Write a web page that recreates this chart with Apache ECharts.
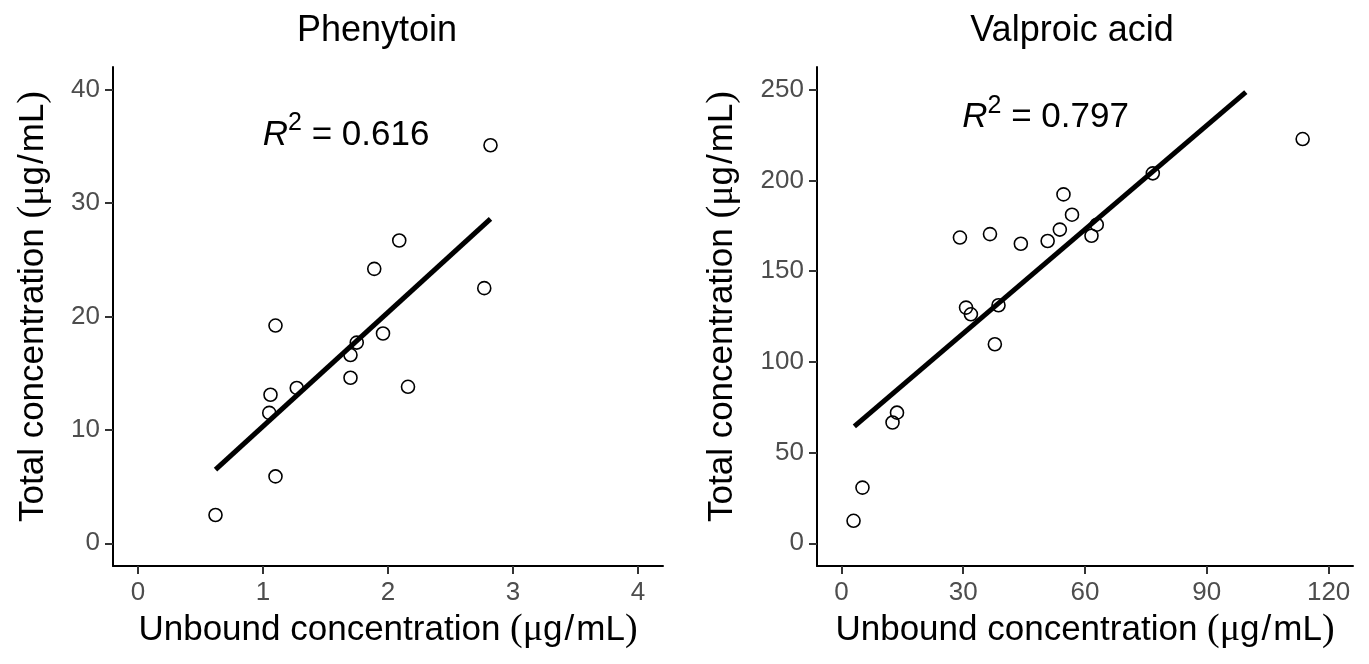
<!DOCTYPE html>
<html>
<head>
<meta charset="utf-8">
<script src="https://cdn.jsdelivr.net/npm/echarts@6/dist/echarts.min.js"></script>
<style>
  html, body { margin: 0; padding: 0; background: #fff; }
  #chart { width: 1369px; height: 664px; }
</style>
</head>
<body>
<div id="chart"></div>
<script>
// Phenytoin: unbound vs total concentration (ug/mL)
const pheUnbound = [0.62, 1.05, 1.06, 1.10, 1.10, 1.27, 1.70, 1.70, 1.75, 1.89, 1.96, 2.09, 2.16, 2.77, 2.82]
const pheTotal = [2.5, 11.5, 13.1, 19.2, 5.9, 13.7, 14.6, 16.6, 17.7, 24.2, 18.5, 26.7, 13.8, 22.5, 35.1]
const pheFitX = [0.62, 2.82]
const pheFitY = [6.5, 28.6]
const pheR2 = '0.616'
const pheXTicks = [0, 1, 2, 3, 4]
const pheYTicks = [0, 10, 20, 30, 40]

// Valproic acid
const vpaUnbound = [3.0, 5.2, 12.6, 13.7, 29.2, 30.7, 31.9, 36.6, 37.8, 38.7, 44.2, 50.8, 53.8, 54.7, 56.8, 61.6, 62.9, 76.7, 113.6]
const vpaTotal = [12.4, 30.7, 66.6, 72.0, 168.5, 129.9, 126.2, 170.4, 109.7, 131.2, 165.1, 166.6, 172.9, 192.3, 181.1, 169.5, 175.6, 203.9, 222.8]
const vpaFitX = [3.2, 99.6]
const vpaFitY = [64.4, 248.7]
const vpaR2 = '0.797'
const vpaXTicks = [0, 30, 60, 90, 120]
const vpaYTicks = [0, 50, 100, 150, 200, 250]

const SANS = '"Liberation Sans", Arial, sans-serif'
const SERIF = '"Liberation Serif", "Times New Roman", serif'

function zip (xs, ys) {
  return xs.map((x, i) => [x, ys[i]])
}

// ggplot-style 5% expansion around the tick range
function expand (ticks) {
  const lo = ticks[0]
  const hi = ticks[ticks.length - 1]
  const pad = (hi - lo) * 0.05
  return [lo - pad, hi + pad]
}

const nameRich = {
  a: { fontFamily: SANS, fontSize: 35, color: '#000' },
  p: { fontFamily: SANS, fontSize: 35, color: '#000', padding: [0, 0, 0, 20] },
  m: { fontFamily: SERIF, fontSize: 38, color: '#000' },
  s: { fontFamily: SANS, fontSize: 35, color: '#000', padding: [0, 2, 0, 2] }
}
function unitName (text, first) {
  return '{' + first + '|' + text + ' }{m|(μ}{a|g}{s|/}{a|mL}{m|)}'
}

function xAxisFor (grid, ticks, gap) {
  const r = expand(ticks)
  return {
    type: 'value',
    gridIndex: grid,
    min: r[0],
    max: r[1],
    name: unitName('Unbound concentration', 'a'),
    nameLocation: 'middle',
    nameGap: gap,
    nameTextStyle: { rich: nameRich },
    splitLine: { show: false },
    axisLine: { onZero: false, lineStyle: { color: '#000', width: 2 } },
    axisTick: { customValues: ticks, length: 8, lineStyle: { color: '#333', width: 2 } },
    axisLabel: { customValues: ticks, margin: 14, fontSize: 26, fontFamily: SANS, color: '#4d4d4d' }
  }
}

function yAxisFor (grid, ticks, gap) {
  const r = expand(ticks)
  return {
    type: 'value',
    gridIndex: grid,
    min: r[0],
    max: r[1],
    name: unitName('Total concentration', 'p'),
    nameLocation: 'middle',
    nameRotate: 90,
    nameGap: gap,
    nameTextStyle: { rich: nameRich },
    splitLine: { show: false },
    axisLine: { onZero: false, lineStyle: { color: '#000', width: 2 } },
    axisTick: { customValues: ticks, length: 8, lineStyle: { color: '#333', width: 2 } },
    axisLabel: { customValues: ticks, margin: 13, fontSize: 26, fontFamily: SANS, color: '#4d4d4d' }
  }
}

const r2Rich = {
  i: { fontFamily: SANS, fontStyle: 'italic', fontSize: 35, color: '#000', lineHeight: 42, verticalAlign: 'bottom' },
  s: { fontFamily: SANS, fontSize: 25, color: '#000', lineHeight: 26, verticalAlign: 'top' },
  n: { fontFamily: SANS, fontSize: 35, color: '#000', lineHeight: 42, verticalAlign: 'bottom' }
}

function pointSeries (grid, xs, ys) {
  return {
    type: 'scatter',
    xAxisIndex: grid,
    yAxisIndex: grid,
    data: zip(xs, ys),
    symbol: 'circle',
    symbolSize: 13,
    itemStyle: { color: 'rgba(0,0,0,0)', borderColor: '#000', borderWidth: 1.6, opacity: 1 },
    silent: true
  }
}

function fitSeries (grid, xs, ys) {
  return {
    type: 'line',
    xAxisIndex: grid,
    yAxisIndex: grid,
    data: zip(xs, ys),
    symbol: 'none',
    lineStyle: { color: '#000', width: 5 },
    silent: true
  }
}

function r2Series (grid, pos, value) {
  return {
    type: 'scatter',
    xAxisIndex: grid,
    yAxisIndex: grid,
    data: [pos],
    symbolSize: 0,
    itemStyle: { opacity: 1 },
    silent: true,
    label: {
      show: true,
      position: 'inside',
      color: '#000',
      textBorderWidth: 0,
      formatter: '{i|R}{s|2}{n| = ' + value + '}',
      rich: r2Rich
    }
  }
}

const chart = echarts.init(document.getElementById('chart'), null, { renderer: 'canvas' })

const titleStyle = { fontFamily: SANS, fontSize: 36, fontWeight: 'normal', color: '#000' }

const option = {
  animation: false,
  backgroundColor: '#fff',
  title: [
    { text: 'Phenytoin', left: 372, top: 8, textAlign: 'center', textStyle: titleStyle },
    { text: 'Valproic acid', left: 1067, top: 8, textAlign: 'center', textStyle: titleStyle }
  ],
  grid: [
    { left: 113, right: 706, top: 67, bottom: 98 },
    { left: 817, right: 16, top: 67, bottom: 98 }
  ],
  xAxis: [xAxisFor(0, pheXTicks, 43), xAxisFor(1, vpaXTicks, 43)],
  yAxis: [yAxisFor(0, pheYTicks, 61), yAxisFor(1, vpaYTicks, 76)],
  series: [
    pointSeries(0, pheUnbound, pheTotal),
    fitSeries(0, pheFitX, pheFitY),
    r2Series(0, [1.665, 36.3], pheR2),
    pointSeries(1, vpaUnbound, vpaTotal),
    fitSeries(1, vpaFitX, vpaFitY),
    r2Series(1, [50.3, 236.5], vpaR2)
  ]
}

chart.setOption(option)
window.addEventListener('resize', function () {
  chart.resize()
})
</script>
</body>
</html>
